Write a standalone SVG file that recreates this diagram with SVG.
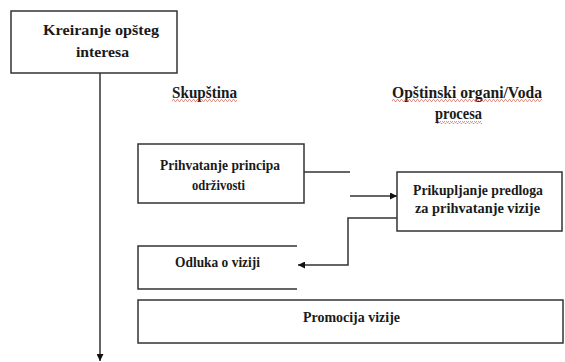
<svg xmlns="http://www.w3.org/2000/svg" width="565" height="362" viewBox="0 0 565 362">
  <defs>
    <marker id="arrow" viewBox="0 0 10 10" refX="10" refY="5" markerWidth="8" markerHeight="7" markerUnits="userSpaceOnUse" orient="auto">
      <path d="M0,0 L10,5 L0,10 Z" fill="#111"/>
    </marker>
    <pattern id="squiggle" width="4" height="3" patternUnits="userSpaceOnUse">
      <path d="M0,2.5 L1,0.5 L2,0.5 L3,2.5 L4,2.5" fill="none" stroke="#c0392b" stroke-width="0.7"/>
    </pattern>
    <style>
      .box { fill: #fff; stroke: #333; stroke-width: 1.5; }
      .edge { fill: none; stroke: #333; stroke-width: 1.5; }
      .lbl { font-family: "Liberation Serif", "Times New Roman", serif; font-weight: bold; font-size: 15.5px; fill: #1a1a1a; text-anchor: middle; }
      .head { font-family: "Liberation Serif", "Times New Roman", serif; font-weight: bold; font-size: 16.5px; fill: #1a1a1a; text-anchor: middle; }
      .wave { fill: url(#squiggle); opacity: 0.75; }
    </style>
  </defs>
  <rect width="565" height="362" fill="#fff"/>

  <!-- column headings -->
  <g id="heading-skupstina">
    <text class="head" x="204.5" y="98" textLength="65" lengthAdjust="spacingAndGlyphs">Skupština</text>
    <rect class="wave" x="172" y="99" width="65" height="3"/>
  </g>
  <g id="heading-organi">
    <text class="head" x="467" y="98" textLength="150" lengthAdjust="spacingAndGlyphs">Opštinski organi/Voda</text>
    <text class="head" x="458.5" y="119" textLength="47" lengthAdjust="spacingAndGlyphs">procesa</text>
    <rect class="wave" x="392" y="99" width="150" height="3"/>
    <rect class="wave" x="435" y="121" width="47" height="3"/>
  </g>

  <!-- nodes -->
  <g id="node-kreiranje">
    <rect class="box" x="11" y="11" width="166" height="62"/>
    <text class="lbl" x="101" y="35" textLength="116" lengthAdjust="spacingAndGlyphs">Kreiranje opšteg</text>
    <text class="lbl" x="102.5" y="57" textLength="53" lengthAdjust="spacingAndGlyphs">interesa</text>
  </g>
  <g id="node-prihvatanje">
    <rect class="box" x="138" y="144" width="166" height="59"/>
    <text class="lbl" x="220" y="170" textLength="120" lengthAdjust="spacingAndGlyphs">Prihvatanje principa</text>
    <text class="lbl" x="218.5" y="190" textLength="53" lengthAdjust="spacingAndGlyphs">održivosti</text>
  </g>
  <g id="node-prikupljanje">
    <rect class="box" x="397" y="172" width="165" height="59"/>
    <text class="lbl" x="478" y="195" textLength="130" lengthAdjust="spacingAndGlyphs">Prikupljanje predloga</text>
    <text class="lbl" x="477.5" y="213" textLength="125" lengthAdjust="spacingAndGlyphs">za prihvatanje vizije</text>
  </g>
  <g id="node-odluka">
    <path class="edge" d="M297,246 H138 V289 H297"/>
    <text class="lbl" x="217.5" y="267" textLength="85" lengthAdjust="spacingAndGlyphs">Odluka o viziji</text>
  </g>
  <g id="node-promocija">
    <rect class="box" x="138" y="300" width="425" height="43"/>
    <text class="lbl" x="351.5" y="322" textLength="97" lengthAdjust="spacingAndGlyphs">Promocija vizije</text>
  </g>

  <!-- connectors -->
  <g id="connectors">
    <path class="edge" d="M100,73 V361" marker-end="url(#arrow)"/>
    <path class="edge" d="M304,172 H350"/>
    <path class="edge" d="M350,196 H397" marker-end="url(#arrow)"/>
    <path class="edge" d="M397,218 H348 V265 H298" marker-end="url(#arrow)"/>
  </g>
</svg>
